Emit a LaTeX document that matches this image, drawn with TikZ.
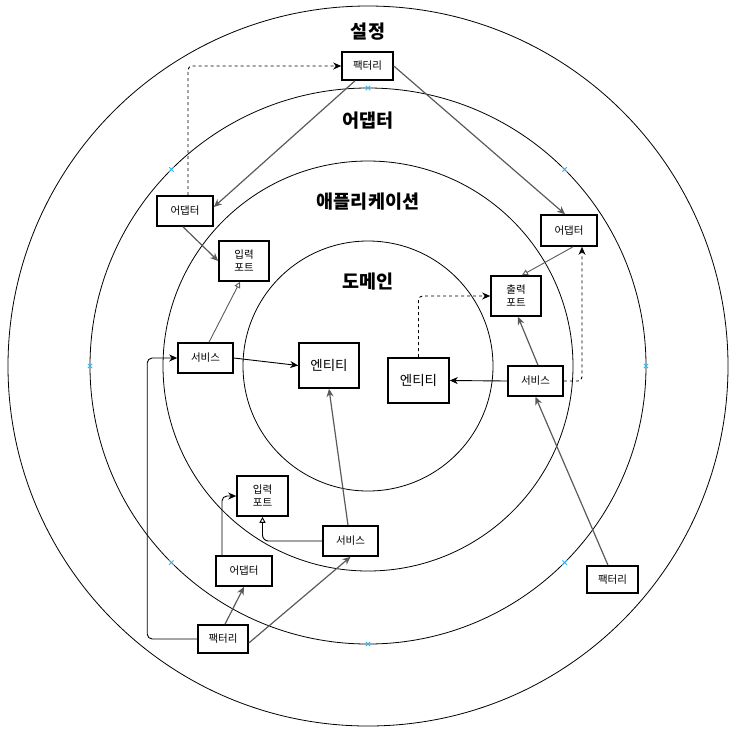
\documentclass[tikz,border=0pt]{standalone}
\usepackage{fontspec}
\setmainfont{Noto Sans CJK KR}
\usetikzlibrary{arrows.meta,calc}
\definecolor{edgegray}{HTML}{5A5A5A}
\definecolor{markblue}{HTML}{29B6F2}
\tikzset{
  box/.style={draw, line width=1.6pt, rectangle, inner sep=0pt, align=center, font=\fontsize{10.5}{13}\selectfont},
  bigbox/.style={box, font=\fontsize{13.5}{16}\selectfont},
  ring/.style={draw, line width=0.8pt},
  title/.style={font=\fontsize{18.5}{22}\selectfont\bfseries, inner sep=0pt},
  blk/.style={draw=black, line width=0.9pt, -{Stealth[length=8pt,width=7pt,inset=2.5pt]}},
  gry/.style={draw=edgegray, line width=1.2pt, -{Stealth[length=8pt,width=7pt,inset=2.5pt]}},
  dsh/.style={draw=black, line width=0.9pt, dash pattern=on 3pt off 3pt, rounded corners=4pt, -{Stealth[length=8pt,width=7pt,inset=2.5pt]}},
  real/.style={line width=0.9pt, -{Triangle[open,length=6pt,width=6pt,fill=white]}},
  xmark/.style={draw=markblue, line width=0.8pt}
}
\begin{document}
\begin{tikzpicture}[x=1pt,y=-1pt]
\useasboundingbox (0,0) rectangle (739,732);
% rings
\coordinate (ctr) at (368,366);
\draw[ring] (ctr) circle[radius=360];
\draw[ring] (ctr) circle[radius=278];
\draw[ring] (ctr) circle[radius=205];
\draw[ring] (ctr) circle[radius=125];
% blue connection marks on the adapter ring
\foreach \a in {0,45,...,315}{
  \draw[xmark] ($(ctr)+(\a:278)$) ++(-2.2,-2.2) -- ++(4.4,4.4) ++(0,-4.4) -- ++(-4.4,4.4);
}
% titles
\node[title] (tSet) at (368,32) {설정};
\node[title] (tAd) at (368,121) {어댑터};
\node[title] (tApp) at (368,202) {애플리케이션};
\node[title] (tDom) at (368,282) {도메인};
% boxes
\node[box, minimum width=51pt, minimum height=28pt] (fTop) at (367.5,66) {팩터리};
\node[box, minimum width=56pt, minimum height=30pt] (aLeft) at (185,211) {어댑터};
\node[box, minimum width=56pt, minimum height=31pt] (aRight) at (569,230.5) {어댑터};
\node[box, minimum width=50pt, minimum height=40pt] (outPort) at (516,296) {출력\\포트};
\node[bigbox, minimum width=61pt, minimum height=45pt] (entR) at (418.5,380.5) {엔티티};
\node[box, minimum width=55pt, minimum height=30pt] (svcR) at (535.5,381) {서비스};
\node[box, minimum width=51pt, minimum height=27pt] (fR) at (612.5,579.5) {팩터리};
\node[box, minimum width=55pt, minimum height=30pt] (svcL) at (205.5,358) {서비스};
\node[bigbox, minimum width=60pt, minimum height=45pt] (entC) at (329,365.5) {엔티티};
\node[box, minimum width=50pt, minimum height=40pt] (inPortU) at (244,261) {입력\\포트};
\node[box, minimum width=51pt, minimum height=40pt] (inPortL) at (262.5,496) {입력\\포트};
\node[box, minimum width=55pt, minimum height=30pt] (svcB) at (350.5,541) {서비스};
\node[box, minimum width=56pt, minimum height=30pt] (aB) at (244,571) {어댑터};
\node[box, minimum width=50pt, minimum height=28pt] (fB) at (223,639) {팩터리};
% connectors
\draw[gry] ([xshift=-12.5pt]fTop.south) -- ([yshift=4pt]aLeft.east);
\draw[gry] (fTop.east) -- ([xshift=-4pt]aRight.north);
\draw[dsh] ([xshift=3pt]aLeft.north) |- (fTop.west);
\draw[gry] ([xshift=-2pt]aLeft.south) -- (inPortU.west);
\draw[real, draw=edgegray] ([xshift=3.5pt]svcL.north) -- ([xshift=-4pt]inPortU.south);
\draw[blk] (svcL.east) -- (entC.west);
\draw[blk, rounded corners=5pt] (fB.west) -- ++(-50,0) |- (svcL.west);
\draw[gry] ([xshift=2pt]fB.north) -- (aB.south);
\draw[gry] ([yshift=-4pt]fB.east) -- (svcB.south);
\draw[blk, rounded corners=5pt] ([xshift=-22pt]aB.north) |- (inPortL.west);
\draw[real, rounded corners=6pt] (svcB.west) -| (inPortL.south);
\draw[gry] ([xshift=-2.5pt]svcB.north) -- (entC.south);
\draw[blk] (svcR.west) -- (entR.east);
\draw[gry] ([xshift=2.5pt]svcR.north) -- ([xshift=2pt]outPort.south);
\draw[dsh] (svcR.east) -| ([xshift=13pt]aRight.south);
\draw[dsh] (entR.north) |- (outPort.west);
\draw[real, draw=edgegray] ([xshift=4pt]aRight.south) -- ([xshift=6pt]outPort.north);
\draw[gry] ([xshift=-4.5pt]fR.north) -- (svcR.south);
\end{tikzpicture}
\end{document}
